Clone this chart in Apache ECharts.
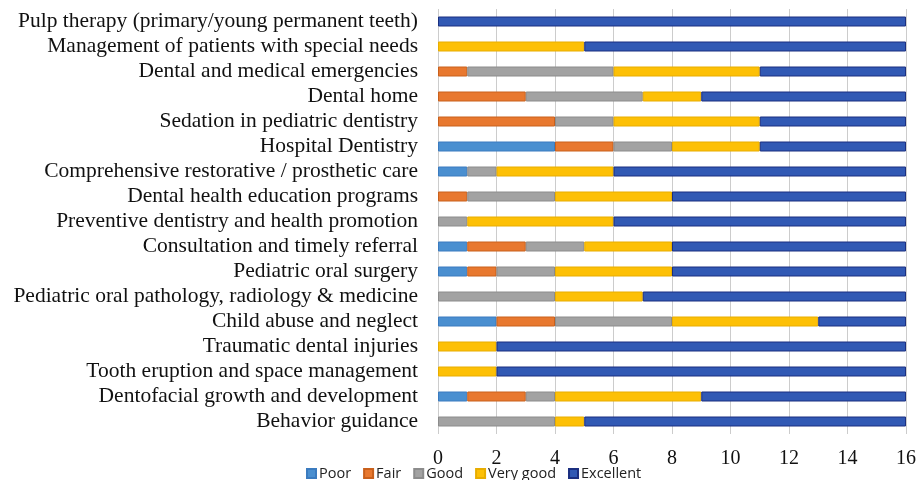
<!DOCTYPE html>
<html>
<head>
    <meta charset="utf-8">
    <title>ECharts</title>
    <script src="https://cdn.jsdelivr.net/npm/echarts@6/dist/echarts.min.js"></script>
    <style>
        html, body { margin: 0; padding: 0; background: #fff; }
    </style>
</head>
<body>
    <div id="main" style="width: 919px;height:480px;"></div>
    <script type="text/javascript">
        // 分类（从上到下）
        var categories = [
            'Pulp therapy (primary/young permanent teeth)',
            'Management of patients with special needs',
            'Dental and medical emergencies',
            'Dental home',
            'Sedation in pediatric dentistry',
            'Hospital Dentistry',
            'Comprehensive restorative / prosthetic care',
            'Dental health education programs',
            'Preventive dentistry and health promotion',
            'Consultation and timely referral',
            'Pediatric oral surgery',
            'Pediatric oral pathology, radiology & medicine',
            'Child abuse and neglect',
            'Traumatic dental injuries',
            'Tooth eruption and space management',
            'Dentofacial growth and development',
            'Behavior guidance'
        ];
        var poor      = [0, 0, 0, 0, 0, 4, 1, 0, 0, 1, 1, 0, 2, 0, 0, 1, 0];
        var fair      = [0, 0, 1, 3, 4, 2, 0, 1, 0, 2, 1, 0, 2, 0, 0, 2, 0];
        var good      = [0, 0, 5, 4, 2, 2, 1, 3, 1, 2, 2, 4, 4, 0, 0, 1, 4];
        var veryGood  = [0, 5, 5, 2, 5, 3, 4, 4, 5, 3, 4, 3, 5, 2, 2, 5, 1];
        var excellent = [16, 11, 5, 7, 5, 5, 10, 8, 10, 8, 8, 9, 3, 14, 14, 7, 11];
        var xTicks = [0, 2, 4, 6, 8, 10, 12, 14, 16];

        var myChart = echarts.init(document.getElementById('main'));

        function mkSeries(name, data, color, border) {
            return {
                name: name,
                type: 'bar',
                stack: 'total',
                barWidth: 10,
                // 0 值不画，避免边框留下细线
                data: data.map(function (v) { return v === 0 ? '-' : v; }),
                itemStyle: { color: color, borderColor: border, borderWidth: 1 }
            };
        }

        var option = {
            animation: false,
            grid: { left: 438, right: 13, top: 9, bottom: 46 },
            legend: {
                data: ['Poor', 'Fair', 'Good', 'Very good', 'Excellent'],
                left: 301,
                top: 461,
                itemWidth: 9,
                itemHeight: 9,
                itemGap: 12,
                icon: 'rect',
                textStyle: { fontFamily: 'Open Sans', fontSize: 14.5, color: '#222', padding: [0, 0, 0, -2] }
            },
            xAxis: {
                type: 'value',
                min: 0,
                max: 16,
                interval: 2,
                axisLine: { show: false },
                axisTick: { show: false },
                splitLine: { show: true, lineStyle: { color: '#cccccc', width: 1 } },
                axisLabel: {
                    margin: 15,
                    fontFamily: 'Liberation Serif',
                    fontSize: 20,
                    color: '#111',
                    formatter: function (v) { return xTicks.indexOf(v) >= 0 ? v : ''; }
                }
            },
            yAxis: {
                type: 'category',
                inverse: true,
                data: categories,
                axisLine: { show: false },
                axisTick: { show: false },
                axisLabel: {
                    interval: 0,
                    margin: 20,
                    fontFamily: 'Liberation Serif',
                    fontSize: 21.5,
                    color: '#111'
                }
            },
            series: [
                mkSeries('Poor', poor, '#4a8fd0', '#3b7bbf'),
                mkSeries('Fair', fair, '#e8782f', '#c9601c'),
                mkSeries('Good', good, '#a2a2a2', '#8c8c8c'),
                mkSeries('Very good', veryGood, '#fdc006', '#e8ad00'),
                mkSeries('Excellent', excellent, '#3159b4', '#1b2f80')
            ]
        };

        myChart.setOption(option);
    </script>
</body>
</html>
